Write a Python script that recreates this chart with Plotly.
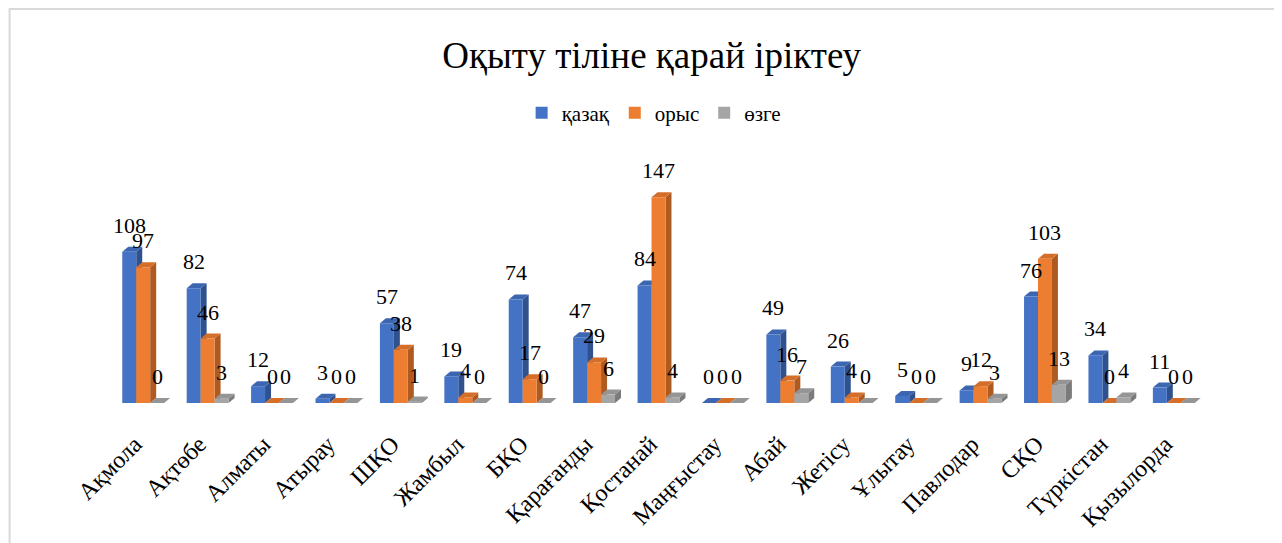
import plotly.graph_objects as go

categories = ["Ақмола", "Ақтөбе", "Алматы", "Атырау", "ШҚО", "Жамбыл", "БҚО",
              "Қарағанды", "Қостанай", "Маңғыстау", "Абай", "Жетісу", "Ұлытау",
              "Павлодар", "СҚО", "Түркістан", "Қызылорда"]
kazakh = [108, 82, 12, 3, 57, 19, 74, 47, 84, 0, 49, 26, 5, 9, 76, 34, 11]
russian = [97, 46, 0, 0, 38, 4, 17, 29, 147, 0, 16, 4, 0, 12, 103, 0, 0]
other = [0, 3, 0, 0, 1, 0, 0, 6, 4, 0, 7, 0, 0, 3, 13, 4, 0]
series_names = ["қазақ", "орыс", "өзге"]

colors = ["#4472C4", "#ED7D31", "#A5A5A5"]
side_colors = ["#2F528F", "#AE5A21", "#7B7B7B"]
top_colors = ["#3C66B0", "#D46E28", "#959595"]

FONT = "Liberation Serif"
W, H = 1282, 543
# the page body adds an 8px offset; margins are chosen accordingly
ML, MR, MT, MB = 102.5, 83.5, 157, 148
YMAX = 170
BARGAP = 0.35

plot_w = W - ML - MR
plot_h = H - MT - MB
px_per_cat = plot_w / len(categories)
px_per_unit = plot_h / YMAX
dx = 6 / px_per_cat
dy = 5 / px_per_unit
bw = (1 - BARGAP) / 3

fig = go.Figure()
series = [kazakh, russian, other]
for name, vals, c in zip(series_names, series, colors):
    fig.add_trace(go.Bar(
        x=list(range(len(categories))), y=vals, name=name,
        marker=dict(color=c, line=dict(width=0)),
        cliponaxis=False, hoverinfo="x+y+name",
    ))

shapes = []
annotations = []
for si, vals in enumerate(series):
    for ci, v in enumerate(vals):
        x0 = ci - (1 - BARGAP) / 2 + si * bw
        x1 = x0 + bw
        side = f"M {x1},0 L {x1+dx},{dy} L {x1+dx},{v+dy} L {x1},{v} Z"
        top = f"M {x0},{v} L {x0+dx},{v+dy} L {x1+dx},{v+dy} L {x1},{v} Z"
        shapes.append(dict(type="path", path=side, xref="x", yref="y",
                           fillcolor=side_colors[si], line=dict(width=0), layer="below"))
        shapes.append(dict(type="path", path=top, xref="x", yref="y",
                           fillcolor=top_colors[si], line=dict(width=0), layer="below"))
        annotations.append(dict(x=(x0 + x1) / 2, y=v, xref="x", yref="y",
                                text=str(v), showarrow=False, yanchor="bottom",
                                xanchor="center", yshift=12,
                                font=dict(family=FONT, size=22, color="#000")))

# chart border
shapes.append(dict(type="rect", xref="paper", yref="paper",
                   x0=(1 - ML) / plot_w, x1=1.2,
                   y0=-1.0, y1=(H - MB - 1) / plot_h,
                   line=dict(color="#D9D9D9", width=2), fillcolor="rgba(0,0,0,0)",
                   layer="below"))

fig.update_layout(
    width=W, height=H,
    margin=dict(l=ML, r=MR, t=MT, b=MB, autoexpand=False),
    paper_bgcolor="white", plot_bgcolor="rgba(0,0,0,0)",
    barmode="group", bargap=BARGAP, bargroupgap=0,
    title=dict(text="Оқыту тіліне қарай іріктеу", x=0.502, xref="container",
               y=1 - 47 / H, yanchor="middle", yref="container",
               font=dict(family=FONT, size=37, color="#000")),
    legend=dict(orientation="h", x=0.504, xanchor="center", xref="container",
                y=1 - 105 / H, yanchor="middle", yref="container",
                font=dict(family=FONT, size=21, color="#000"),
                itemwidth=30, traceorder="normal"),
    showlegend=True,
    shapes=shapes,
    annotations=annotations,
    xaxis=dict(tickmode="array", tickvals=list(range(len(categories))),
               ticktext=[c + "\u00a0\u00a0" for c in categories],
               tickangle=-45, range=[-0.5, len(categories) - 0.5],
               showgrid=False, showline=False, zeroline=False, ticks="",
               automargin=False, ticklabelstandoff=13,
               tickfont=dict(family=FONT, size=24, color="#000")),
    yaxis=dict(range=[0, YMAX], visible=False, showgrid=False, zeroline=False,
               automargin=False),
    font=dict(family=FONT),
)

fig.write_html("out.html")
